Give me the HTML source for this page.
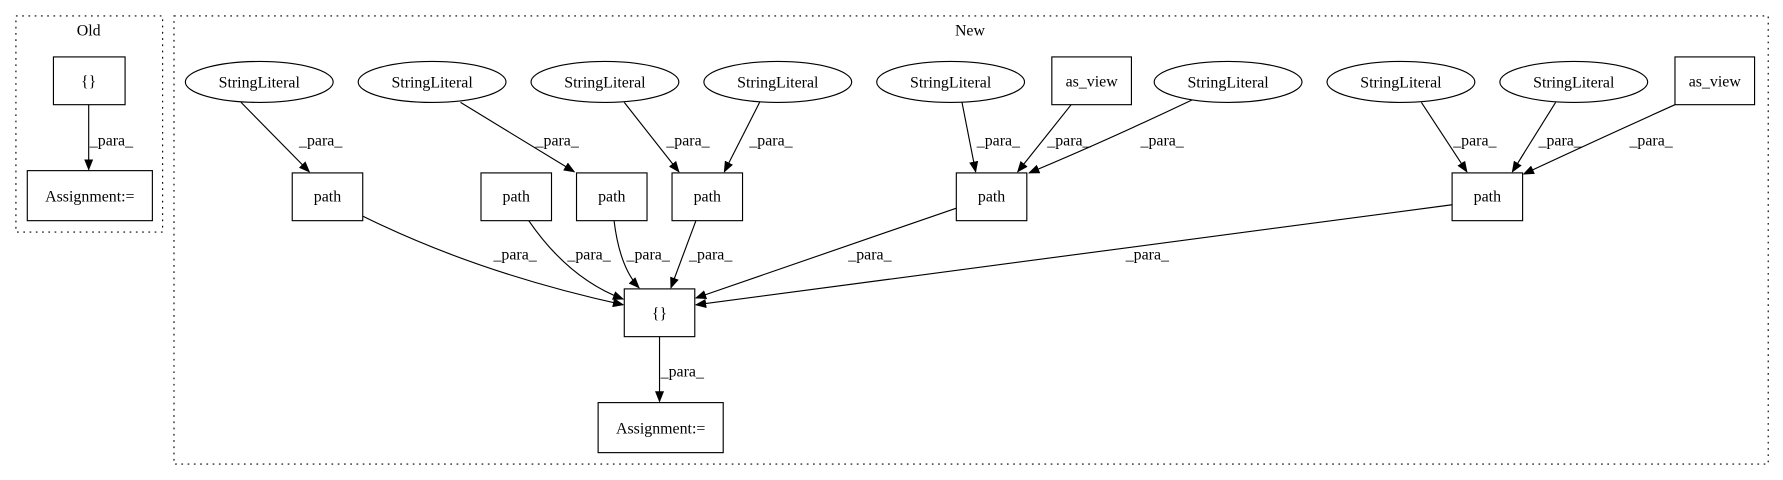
<!DOCTYPE html>
<html><head><style>html,body{margin:0;padding:0;background:#fff}svg{display:block}</style></head>
<body>
<svg width="1783" height="480" viewBox="0 0 1568 422" xmlns="http://www.w3.org/2000/svg" font-family="Liberation Serif, serif" font-size="14">
<defs><marker id="a" markerWidth="10" markerHeight="8" refX="9" refY="4" orient="auto" markerUnits="userSpaceOnUse"><path d="M0,0 L10,4 L0,8 z" fill="#000"/></marker></defs>
<rect x="14" y="14" width="129" height="190" fill="none" stroke="#000" stroke-dasharray="1.5,4"/>
<text x="78" y="31" text-anchor="middle">Old</text>
<rect x="153" y="14" width="1402" height="394" fill="none" stroke="#000" stroke-dasharray="1.5,4"/>
<text x="853" y="31" text-anchor="middle">New</text>
<g fill="none" stroke="#000">
<rect x="47" y="50" width="63" height="42"/><rect x="24" y="150" width="110" height="44"/>
<ellipse cx="228" cy="72" rx="65" ry="18"/><ellipse cx="380" cy="72" rx="65" ry="18"/><ellipse cx="532" cy="72" rx="65" ry="18"/><ellipse cx="684" cy="72" rx="65" ry="18"/><ellipse cx="836" cy="72" rx="65" ry="18"/><ellipse cx="1080" cy="72" rx="65" ry="18"/><ellipse cx="1232" cy="72" rx="65" ry="18"/><ellipse cx="1384" cy="72" rx="65" ry="18"/>
<rect x="925" y="50" width="70" height="42"/><rect x="1473" y="50" width="70" height="42"/>
<rect x="257" y="152" width="62" height="42"/><rect x="423" y="152" width="62" height="42"/><rect x="507" y="152" width="62" height="42"/><rect x="591" y="152" width="62" height="42"/><rect x="841" y="152" width="62" height="42"/><rect x="1277" y="152" width="62" height="42"/>
<rect x="549" y="254" width="62" height="42"/><rect x="526" y="354" width="110" height="44"/>
</g>
<g fill="none" stroke="#000" marker-end="url(#a)">
<path d="M78,92 L78,149"/>
<path d="M212,90 L272,151"/>
<path d="M405,90 L505,151"/>
<path d="M549,90 L597,151"/>
<path d="M668,90 L637,151"/>
<path d="M846,90 L858,151"/>
<path d="M942,92 L895,151"/>
<path d="M1048,88 Q970,125 905,152"/>
<path d="M1250,90 L1290,151"/>
<path d="M1368,90 L1330,151"/>
<path d="M1473,92 Q1400,125 1340,153"/>
<path d="M319,190 Q420,240 548,268"/>
<path d="M465,194 Q500,245 548,263"/>
<path d="M540,194 Q545,235 562,253"/>
<path d="M612,194 L590,253"/>
<path d="M841,183 L612,262"/>
<path d="M1277,180 L612,268"/>
<path d="M580,296 L580,353"/>
</g>
<g text-anchor="middle">
<text x="78" y="76">{}</text><text x="79" y="177">Assignment:=</text>
<text x="228" y="77">StringLiteral</text><text x="380" y="77">StringLiteral</text><text x="532" y="77">StringLiteral</text><text x="684" y="77">StringLiteral</text><text x="836" y="77">StringLiteral</text><text x="1080" y="77">StringLiteral</text><text x="1232" y="77">StringLiteral</text><text x="1384" y="77">StringLiteral</text>
<text x="960" y="76">as_view</text><text x="1508" y="76">as_view</text>
<text x="288" y="177">path</text><text x="454" y="177">path</text><text x="538" y="177">path</text><text x="622" y="177">path</text><text x="872" y="177">path</text><text x="1308" y="177">path</text>
<text x="580" y="280">{}</text><text x="581" y="381">Assignment:=</text>
<text x="98" y="128">_para_</text>
<text x="282" y="128">_para_</text><text x="490" y="128">_para_</text><text x="605" y="128">_para_</text><text x="678" y="128">_para_</text><text x="878" y="128">_para_</text><text x="940" y="128">_para_</text><text x="1022" y="128">_para_</text><text x="1297" y="128">_para_</text><text x="1372" y="128">_para_</text><text x="1452" y="128">_para_</text>
<text x="453" y="228">_para_</text><text x="518" y="228">_para_</text><text x="570" y="228">_para_</text><text x="625" y="228">_para_</text><text x="765" y="228">_para_</text><text x="1009" y="228">_para_</text>
<text x="600" y="331">_para_</text>
</g>
</svg>
</body></html>
